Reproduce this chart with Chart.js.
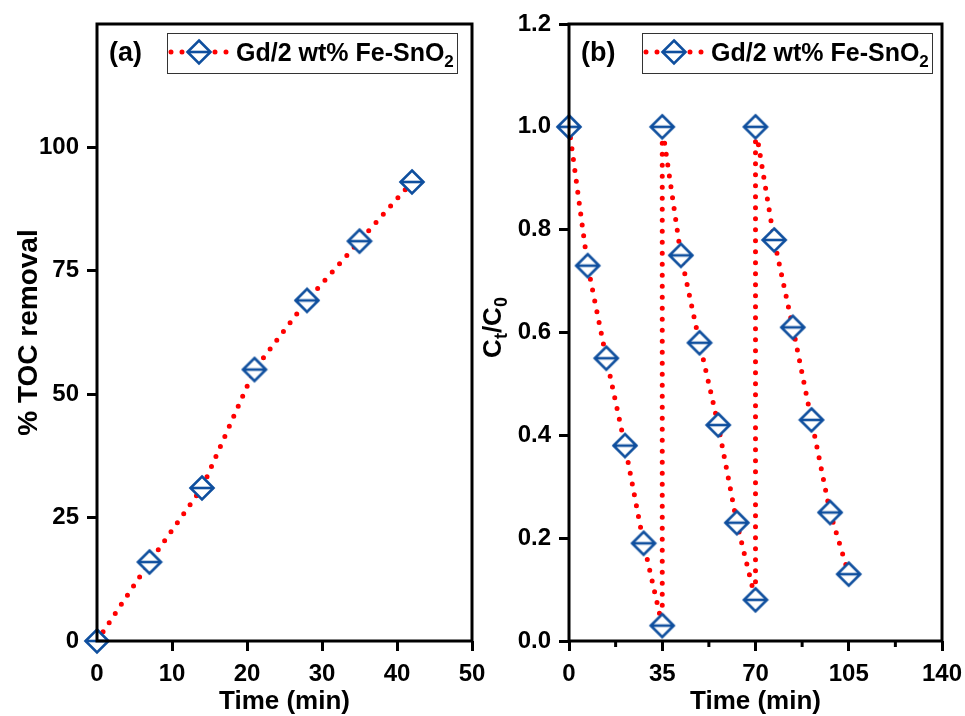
<!DOCTYPE html>
<html>
<head>
<meta charset="utf-8">
<script src="https://cdn.jsdelivr.net/npm/chart.js@4.4.0/dist/chart.umd.min.js"></script>
<style>
  body { margin: 0; background: #fff; }
  #wrap { position: relative; width: 965px; height: 716px; overflow: hidden; }
  canvas { position: absolute; top: 0; }
</style>
</head>
<body>
<div id="wrap">
  <canvas id="tocChart" width="510" height="716" style="left:0px"></canvas>
  <canvas id="cycleChart" width="500" height="716" style="left:480px"></canvas>
</div>
<script>
// panel (a)
var timeA = [0, 7, 14, 21, 28, 35, 42];
var tocRemoval = [0, 16, 31, 55, 69, 81, 93];
var ticksAx = [0, 10, 20, 30, 40, 50];
var ticksAy = [0, 25, 50, 75, 100];

// panel (b)
var timeB = [0, 7, 14, 21, 28, 35, 35, 42, 49, 56, 63, 70, 70, 77, 84, 91, 98, 105];
var ctC0 = [1.0, 0.73, 0.55, 0.38, 0.19, 0.03, 1.0, 0.75, 0.58, 0.42, 0.23, 0.08, 1.0, 0.78, 0.61, 0.43, 0.25, 0.13];
var ticksBx = [0, 35, 70, 105, 140];
var minorBx = [17.5, 52.5, 87.5, 122.5];
var ticksBy = [0, 0.2, 0.4, 0.6, 0.8, 1.0, 1.2];

var BLUE = '#0f4f9e';
var RED = '#ff0000';
var FONT = '"Liberation Sans", Arial, sans-serif';

Chart.defaults.font.family = FONT;
Chart.defaults.font.weight = 'bold';
Chart.defaults.color = '#000';

function makeMarker() {
  var c = document.createElement('canvas');
  c.width = 28; c.height = 28;
  var g = c.getContext('2d');
  g.lineWidth = 2.6;
  g.strokeStyle = BLUE;
  g.fillStyle = '#fff';
  g.beginPath();
  g.moveTo(14, 2.5); g.lineTo(25.5, 14); g.lineTo(14, 25.5); g.lineTo(2.5, 14);
  g.closePath();
  g.fill(); g.stroke();
  g.beginPath(); g.moveTo(2.5, 14); g.lineTo(25.5, 14); g.stroke();
  return c;
}
var marker = makeMarker();

// text with subscripts, parts = [[text, isSub], ...]
function partsWidth(ctx, parts, size, subSize) {
  var w = 0;
  parts.forEach(function (p) {
    ctx.font = 'bold ' + (p[1] ? subSize : size) + 'px ' + FONT;
    w += ctx.measureText(p[0]).width;
  });
  return w;
}
function drawParts(ctx, parts, x, y, size, subSize) {
  ctx.textBaseline = 'alphabetic';
  ctx.textAlign = 'left';
  parts.forEach(function (p) {
    ctx.font = 'bold ' + (p[1] ? subSize : size) + 'px ' + FONT;
    ctx.fillText(p[0], x, p[1] ? y + 6 : y);
    x += ctx.measureText(p[0]).width;
  });
}

var legendParts = [['Gd/2 wt% Fe-SnO', false], ['2', true]];

var panelPlugin = {
  id: 'panel',
  afterDatasetsDraw: function (chart, args, opts) {
    var a = chart.chartArea, ctx = chart.ctx;
    var xs = chart.scales.x;
    ctx.save();
    ctx.strokeStyle = '#000';
    ctx.lineWidth = 3;
    (opts.minorX || []).forEach(function (v) {
      var px = xs.getPixelForValue(v);
      ctx.beginPath();
      ctx.moveTo(px, a.bottom);
      ctx.lineTo(px, a.bottom + 6);
      ctx.stroke();
    });
    ctx.strokeRect(a.left, a.top, a.right - a.left, a.bottom - a.top);
    ctx.restore();
  },
  afterDraw: function (chart, args, opts) {
    var a = chart.chartArea, ctx = chart.ctx;
    ctx.save();
    ctx.fillStyle = '#000';
    // panel tag
    ctx.font = 'bold 27px ' + FONT;
    ctx.textBaseline = 'middle';
    ctx.fillText(opts.tag, a.left + 12, a.top + 30);

    // legend box
    var bx = a.left + opts.boxOffset, by = a.top + 9, bw = 290, bh = 40;
    ctx.strokeStyle = '#333';
    ctx.lineWidth = 1;
    ctx.strokeRect(bx + 0.5, by + 0.5, bw, bh);
    var cy = by + 19;
    ctx.strokeStyle = RED;
    ctx.lineWidth = 5;
    ctx.lineCap = 'round';
    ctx.setLineDash([0, 11]);
    ctx.beginPath();
    ctx.moveTo(bx + 4, cy);
    ctx.lineTo(bx + 60, cy);
    ctx.stroke();
    ctx.setLineDash([]);
    ctx.drawImage(marker, bx + 32 - 14, cy - 14);
    ctx.fillStyle = '#000';
    drawParts(ctx, legendParts, bx + 69, cy + 9, 25, 17);

    // custom y title
    if (opts.yTitle) {
      ctx.translate(opts.yTitleX, (a.top + a.bottom) / 2 - 5);
      ctx.rotate(-Math.PI / 2);
      var w = partsWidth(ctx, opts.yTitle, 26, 18);
      drawParts(ctx, opts.yTitle, -w / 2, 9, 26, 18);
    }
    ctx.restore();
  }
};

function axisGrid() {
  return { drawOnChartArea: false, drawTicks: true, tickLength: 10, lineWidth: 3, color: '#000' };
}

new Chart(document.getElementById('tocChart'), {
  type: 'line',
  data: {
    datasets: [{
      label: 'Gd/2 wt% Fe-SnO2',
      data: timeA.map(function (t, i) { return { x: t, y: tocRemoval[i] }; }),
      borderColor: RED,
      borderWidth: 5,
      borderDash: [0, 11],
      borderCapStyle: 'round',
      pointStyle: marker,
      pointRadius: 12,
      clip: false
    }]
  },
  options: {
    responsive: false,
    animation: false,
    layout: { padding: { left: 0, top: 24, right: 38, bottom: 0 } },
    plugins: {
      legend: { display: false },
      tooltip: { enabled: false },
      panel: { tag: '(a)', boxOffset: 70 }
    },
    scales: {
      x: {
        type: 'linear', min: 0, max: 50,
        afterBuildTicks: function (s) { s.ticks = ticksAx.map(function (v) { return { value: v }; }); },
        afterFit: function (s) { s.height = 75; },
        grid: axisGrid(),
        border: { display: false },
        ticks: { font: { size: 24, weight: 'bold' }, padding: 9, maxRotation: 0 },
        title: { display: true, text: 'Time (min)', font: { size: 26, weight: 'bold', lineHeight: 1.1 }, padding: { top: 0, bottom: 0 } }
      },
      y: {
        type: 'linear', min: 0, max: 125,
        afterBuildTicks: function (s) { s.ticks = ticksAy.map(function (v) { return { value: v }; }); },
        afterFit: function (s) { s.width = 97; },
        grid: axisGrid(),
        border: { display: false },
        ticks: { font: { size: 24, weight: 'bold' }, padding: 8 },
        title: { display: true, text: '% TOC removal', font: { size: 28, weight: 'bold', lineHeight: 1.1 }, padding: { top: 14, bottom: 0 } }
      }
    }
  },
  plugins: [panelPlugin]
});

new Chart(document.getElementById('cycleChart'), {
  type: 'line',
  data: {
    datasets: [{
      label: 'Gd/2 wt% Fe-SnO2',
      data: timeB.map(function (t, i) { return { x: t, y: ctC0[i] }; }),
      borderColor: RED,
      borderWidth: 5,
      borderDash: [0, 11],
      borderCapStyle: 'round',
      pointStyle: marker,
      pointRadius: 12,
      clip: false
    }]
  },
  options: {
    responsive: false,
    animation: false,
    layout: { padding: { left: 0, top: 24, right: 38, bottom: 0 } },
    plugins: {
      legend: { display: false },
      tooltip: { enabled: false },
      panel: {
        tag: '(b)', boxOffset: 73, minorX: minorBx,
        yTitle: [['C', false], ['t', true], ['/C', false], ['0', true]], yTitleX: 12
      }
    },
    scales: {
      x: {
        type: 'linear', min: 0, max: 140,
        afterBuildTicks: function (s) { s.ticks = ticksBx.map(function (v) { return { value: v }; }); },
        afterFit: function (s) { s.height = 75; },
        grid: axisGrid(),
        border: { display: false },
        ticks: { font: { size: 24, weight: 'bold' }, padding: 9, maxRotation: 0 },
        title: { display: true, text: 'Time (min)', font: { size: 26, weight: 'bold', lineHeight: 1.1 }, padding: { top: 0, bottom: 0 } }
      },
      y: {
        type: 'linear', min: 0, max: 1.2,
        afterBuildTicks: function (s) { s.ticks = ticksBy.map(function (v) { return { value: v }; }); },
        afterFit: function (s) { s.width = 89; },
        grid: axisGrid(),
        border: { display: false },
        ticks: { font: { size: 24, weight: 'bold' }, padding: 8, callback: function (v) { return v.toFixed(1); } }
      }
    }
  },
  plugins: [panelPlugin]
});
</script>
</body>
</html>
